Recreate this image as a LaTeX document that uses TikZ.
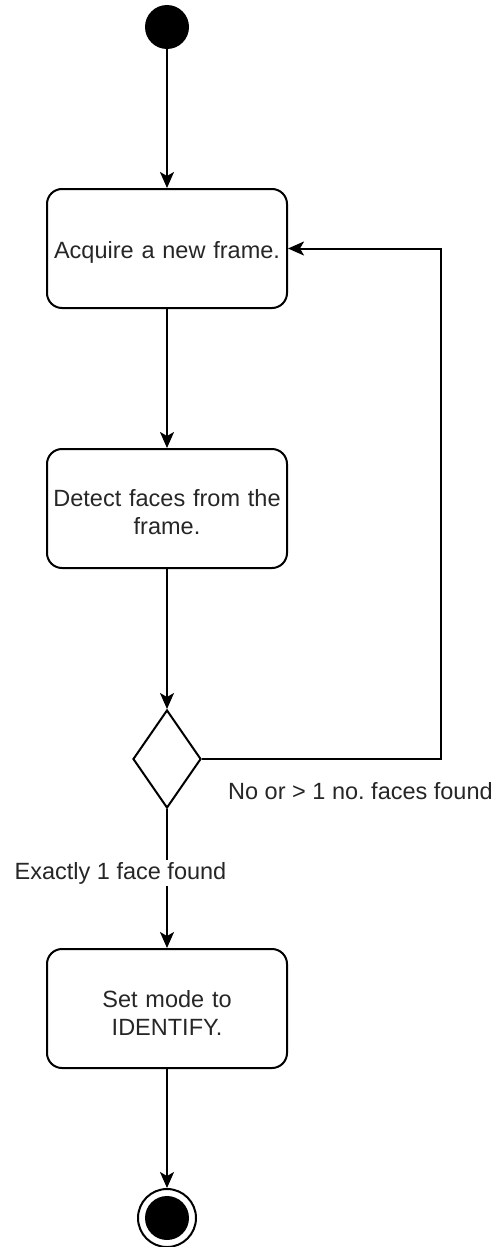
\documentclass[tikz,border=0pt]{standalone}
\usepackage{fontspec}
\setmainfont{Liberation Sans}
\usetikzlibrary{shapes.geometric,arrows.meta}
% lower a line of text without changing its box
\newcommand{\lowline}[1]{\raisebox{-4pt}[\height][\depth]{#1}}
\begin{document}
\frenchspacing
\begin{tikzpicture}[x=1pt,y=-1pt,
  every node/.style={font=\fontsize{23.5}{28}\selectfont, text=black!85},
  act/.style={draw, line width=2pt, rounded corners=15pt, minimum width=240pt,
    minimum height=119pt, align=center, inner sep=2pt, text width=234pt},
  dec/.style={draw, line width=2pt, diamond, minimum width=68pt, minimum height=98pt,
    inner sep=0pt, aspect=0.694},
  startdot/.style={circle, fill=black, minimum size=44pt, inner sep=0pt},
  endring/.style={circle, draw, line width=2pt, minimum size=58pt, inner sep=0pt},
  flow/.style={line width=2pt, -{Stealth[length=16pt, width=14pt, inset=4pt]}},
  lbl/.style={fill=white, inner sep=2pt}
]
\useasboundingbox (0,0) rectangle (501,1247);

% nodes of the activity
\node[startdot] (start) at (167,27) {};
\node[act] (acq) at (167,248.5) {\lowline{Acquire a new frame.}};
\node[act] (det) at (167,508.5) {\lowline{Detect faces from the}\\\lowline{frame.}};
\node[dec] (chk) at (167,759) {};
\node[act] (ide) at (167,1008.5) {\lowline{Set mode to}\\\lowline{IDENTIFY.}};
\node[endring] (stop) at (167,1218) {};
\node[startdot] (stopdot) at (167,1218) {};

% main flow
\draw[flow] (start) -- (acq.north);
\draw[flow] (acq.south) -- (det.north);
\draw[flow] (det.south) -- (chk.north);
\draw[flow] (chk.south) -- (ide.north);
\draw[flow] (ide.south) -- (stop.north);

% retry loop
\coordinate (loop) at (441,759);
\draw[flow] (chk.east) -- (loop) |- (acq.east);

% guard labels
\node[anchor=west, inner sep=0pt] (nolbl) at (228,791) {No or > 1 no. faces found};
\node[lbl] (onelbl) at (120.5,873) {Exactly 1 face found};
\end{tikzpicture}
\end{document}
